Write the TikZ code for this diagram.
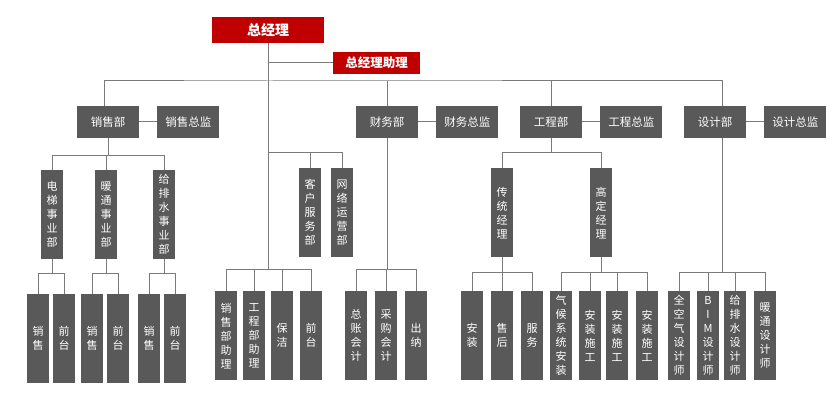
\documentclass[tikz,border=0pt]{standalone}
\usepackage{fontspec}
\setmainfont{Noto Sans CJK SC}
\usetikzlibrary{positioning,calc}
\definecolor{topred}{HTML}{C00000}
\definecolor{boxgray}{HTML}{595959}
\definecolor{linegray}{HTML}{7A7A7A}
\tikzset{
  topbox/.style={fill=topred,text=white,inner sep=0pt,
    font=\bfseries\fontsize{14}{16}\selectfont},
  deptbox/.style={fill=boxgray,text=white,inner sep=0pt,minimum width=62pt,
    minimum height=32pt,font=\fontsize{11.5}{13}\selectfont},
  vbox/.style={fill=boxgray,text=white,inner sep=0pt,minimum width=22pt,
    minimum height=89pt,anchor=north,align=center,
    font=\fontsize{11}{14}\selectfont},
  link/.style={draw=linegray,line width=1pt},
}

\begin{document}
\begin{tikzpicture}[x=1pt,y=-1pt,node distance=18pt]
  \useasboundingbox (0,0) rectangle (836,398);
  % top
  \node[topbox,minimum width=112pt,minimum height=26pt] (gm) at (268,30) {总经理};
  \node[topbox,minimum width=87pt,minimum height=22pt,
    font=\bfseries\fontsize{12.5}{14}\selectfont] (zl) at (376.5,63) {总经理助理};
  % departments
  \node[deptbox] (xs) at (108,122) {销售部};
  \node[deptbox,right=of xs] (xsz) {销售总监};
  \node[deptbox] (cw) at (387,122) {财务部};
  \node[deptbox,right=of cw] (cwz) {财务总监};
  \node[deptbox] (gc) at (551,122) {工程部};
  \node[deptbox,right=of gc] (gcz) {工程总监};
  \node[deptbox] (sj) at (715,122) {设计部};
  \node[deptbox,right=of sj] (sjz) {设计总监};
  % sales units
  \node[vbox] (dt) at (52,170) {电\\梯\\事\\业\\部};
  \node[vbox] (nt) at (106,170) {暖\\通\\事\\业\\部};
  \node[vbox] (gp) at (164,170) {给\\排\\水\\事\\业\\部};
  \node[vbox] (dt1) at (38,294) {销\\售};
  \node[vbox] (dt2) at (64,294) {前\\台};
  \node[vbox] (nt1) at (92,294) {销\\售};
  \node[vbox] (nt2) at (118,294) {前\\台};
  \node[vbox] (gp1) at (149,294) {销\\售};
  \node[vbox] (gp2) at (175,294) {前\\台};
  % under the general manager
  \node[vbox] (kf) at (310,168) {客\\户\\服\\务\\部};
  \node[vbox] (wl) at (342,168) {网\\络\\运\\营\\部};
  \node[vbox] (m1) at (226,291) {销\\售\\部\\助\\理};
  \node[vbox] (m2) at (254,291) {工\\程\\部\\助\\理};
  \node[vbox] (m3) at (282,291) {保\\洁};
  \node[vbox] (m4) at (311,291) {前\\台};
  % finance
  \node[vbox] (c1) at (356,291) {总\\账\\会\\计};
  \node[vbox] (c2) at (386,291) {采\\购\\会\\计};
  \node[vbox] (c3) at (416,291) {出\\纳};
  % engineering
  \node[vbox] (ct) at (502,168) {传\\统\\经\\理};
  \node[vbox] (gd) at (601,168) {高\\定\\经\\理};
  \node[vbox] (ct1) at (472,291) {安\\装};
  \node[vbox] (ct2) at (502,291) {售\\后};
  \node[vbox] (ct3) at (532,291) {服\\务};
  \node[vbox] (gd1) at (561,291) {气\\候\\系\\统\\安\\装};
  \node[vbox] (gd2) at (590,291) {安\\装\\施\\工};
  \node[vbox] (gd3) at (617,291) {安\\装\\施\\工};
  \node[vbox] (gd4) at (647,291) {安\\装\\施\\工};
  % design
  \node[vbox] (s1) at (679,291) {全\\空\\气\\设\\计\\师};
  \node[vbox] (s2) at (708,291) {B\\I\\M\\设\\计\\师};
  \node[vbox] (s3) at (735,291) {给\\排\\水\\设\\计\\师};
  \node[vbox] (s4) at (765,291) {暖\\通\\设\\计\\师};

  % connectors
  \coordinate (bus) at (268,81);
  \coordinate (mb1) at (268,153);
  \coordinate (mb2) at (268,270);
  \draw[link] (gm.south) -- (mb2);
  \draw[link] (gm.south |- zl.west) -- (zl.west);
  \draw[link] ([xshift=-4pt]xs.north) |- (bus) -| ([xshift=7pt]sj.north);
  \foreach \d in {cw,gc}
    \draw[link] (\d.north) -- (\d.north |- bus);
  \foreach \d in {xs,cw,gc,sj}
    \draw[link] (\d.east) -- (\d z.west);
  \foreach \c in {kf,wl}
    \draw[link] (mb1) -| (\c.north);
  \foreach \c in {m1,m2,m3,m4}
    \draw[link] (mb2) -| (\c.north);
  % sales
  \draw[link] (xs.south) -- ++(0,17) coordinate (xsb);
  \foreach \c in {dt,nt,gp}
    \draw[link] (xsb) -| (\c.north);
  \foreach \u in {dt,nt,gp} {
    \draw[link] (\u.south) -- ++(0,14) coordinate (\u b);
    \draw[link] (\u 1.north) |- (\u b) -| (\u 2.north);
  }
  % finance
  \draw[link] (cw.south) -- ++(0,131) coordinate (cwb);
  \foreach \c in {c1,c2,c3}
    \draw[link] (cwb) -| (\c.north);
  % engineering
  \draw[link] (gc.south) -- ++(0,14) coordinate (gcb);
  \foreach \c in {ct,gd}
    \draw[link] (gcb) -| (\c.north);
  \draw[link] (ct.south) -- ++(0,15) coordinate (ctb);
  \foreach \c in {ct1,ct2,ct3}
    \draw[link] (ctb) -| (\c.north);
  \draw[link] (gd.south) -- ++(0,15) coordinate (gdb);
  \foreach \c in {gd1,gd2,gd3,gd4}
    \draw[link] (gdb) -| (\c.north);
  % design
  \draw[link] ([xshift=7pt]sj.south) -- ++(0,134) coordinate (sjb);
  \foreach \c in {s1,s2,s3,s4}
    \draw[link] (sjb) -| (\c.north);
\end{tikzpicture}
\end{document}
